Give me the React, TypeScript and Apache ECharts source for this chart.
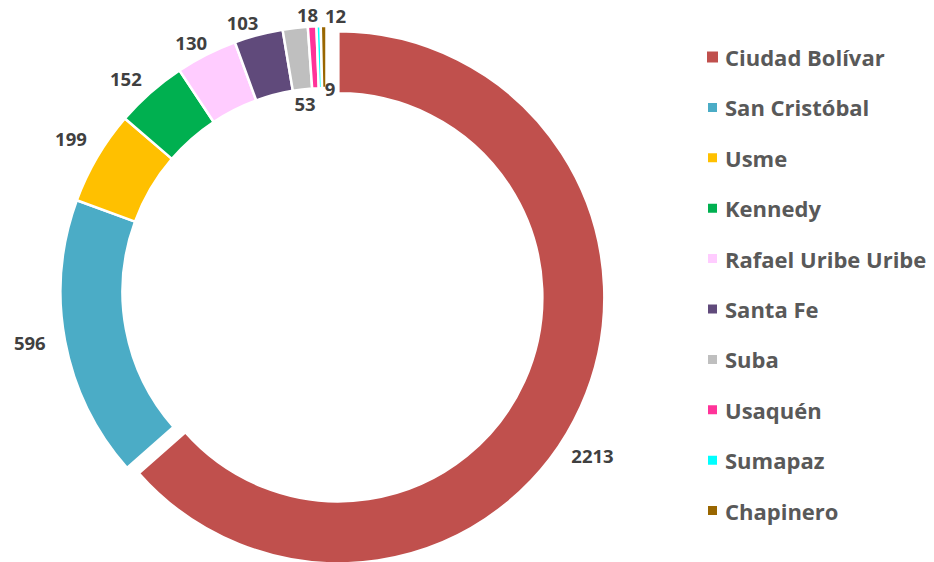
import React, { useEffect, useRef } from "react";
import * as echarts from "echarts";

const categories = [
  "Ciudad Bolívar",
  "San Cristóbal",
  "Usme",
  "Kennedy",
  "Rafael Uribe Uribe",
  "Santa Fe",
  "Suba",
  "Usaquén",
  "Sumapaz",
  "Chapinero",
];
const values = [2213, 596, 199, 152, 130, 103, 53, 18, 9, 12];
const colors = [
  "#C0504D",
  "#4BACC6",
  "#FFC000",
  "#00B050",
  "#FFCCFF",
  "#604A7B",
  "#BFBFBF",
  "#FF3399",
  "#00FFFF",
  "#996600",
];

// label placement (styling): radius from centre and angular nudge (degrees)
const labelRadius = [312, 301, 298, 293, 284, 282, 190, 278, 204, 277];
const labelShift = [7.2, 0.9, 0.5, -1.8, -1.6, -2.5, 0.3, -0.8, 2.7, 2.5];
const EXPLODED = 0; // index of the pulled-out slice
const EXPLODE_OFFSET = 13;

const CX = 326.5;
const CY = 292;

export default function App() {
  const ref = useRef<HTMLDivElement>(null);
  useEffect(() => {
    if (!ref.current) return;
    const chart = echarts.init(ref.current, undefined, { renderer: "svg" });
    const total = values.reduce((a, b) => a + b, 0);
    const mids: number[] = [];
    let acc = 0;
    values.forEach((v) => {
      mids.push(((acc + v / 2) / total) * 360);
      acc += v;
    });
    const ea = (mids[EXPLODED] * Math.PI) / 180;
    const ecx = CX + EXPLODE_OFFSET * Math.sin(ea);
    const ecy = CY - EXPLODE_OFFSET * Math.cos(ea);

    const labelLayout = (params: any) => {
      const i = params.dataIndex;
      const a = ((mids[i] + labelShift[i]) * Math.PI) / 180;
      return {
        x: CX + labelRadius[i] * Math.sin(a),
        y: CY - labelRadius[i] * Math.cos(a),
        align: "center",
        verticalAlign: "middle",
      };
    };
    const labelStyle = {
      position: "outside",
      formatter: "{c}",
      fontFamily: "Open Sans",
      fontWeight: "bold",
      fontSize: 18.5,
      color: "#404040",
    };
    const hidden = {
      itemStyle: { color: "rgba(0,0,0,0)", borderWidth: 0 },
      label: { show: false },
    };
    const base = {
      type: "pie",
      radius: [204, 266],
      startAngle: 90,
      clockwise: true,
      silent: true,
      avoidLabelOverlap: false,
      itemStyle: { borderColor: "#ffffff", borderWidth: 2.5 },
      emphasis: { disabled: true },
      labelLine: { show: false },
      labelLayout,
    };

    chart.setOption({
      animation: false,
      color: colors,
      legend: {
        orient: "vertical",
        left: 706,
        top: 45,
        padding: 0,
        itemWidth: 11,
        itemHeight: 11,
        itemGap: 26.4,
        icon: "rect",
        selectedMode: false,
        data: categories.map((name, i) => ({
          name,
          itemStyle: { color: colors[i] },
        })),
        textStyle: {
          fontFamily: "Open Sans",
          fontWeight: "bold",
          fontSize: 22,
          lineHeight: 24,
          color: "#595959",
          padding: [0, 0, 0, 2],
        },
      },
      series: [
        {
          ...base,
          center: [CX, CY],
          label: { show: true, ...labelStyle },
          data: categories.map((name, i) =>
            i === EXPLODED
              ? { name, value: values[i], ...hidden }
              : { name, value: values[i], itemStyle: { color: colors[i] } }
          ),
        },
        {
          ...base,
          center: [ecx, ecy],
          label: { show: true, ...labelStyle },
          data: categories.map((name, i) =>
            i === EXPLODED
              ? { name, value: values[i], itemStyle: { color: colors[i] } }
              : { name, value: values[i], ...hidden }
          ),
        },
      ],
    });
    return () => chart.dispose();
  }, []);
  return (
    <div
      ref={ref}
      style={{ position: "absolute", left: 0, top: 0, width: 934, height: 562 }}
    />
  );
}
